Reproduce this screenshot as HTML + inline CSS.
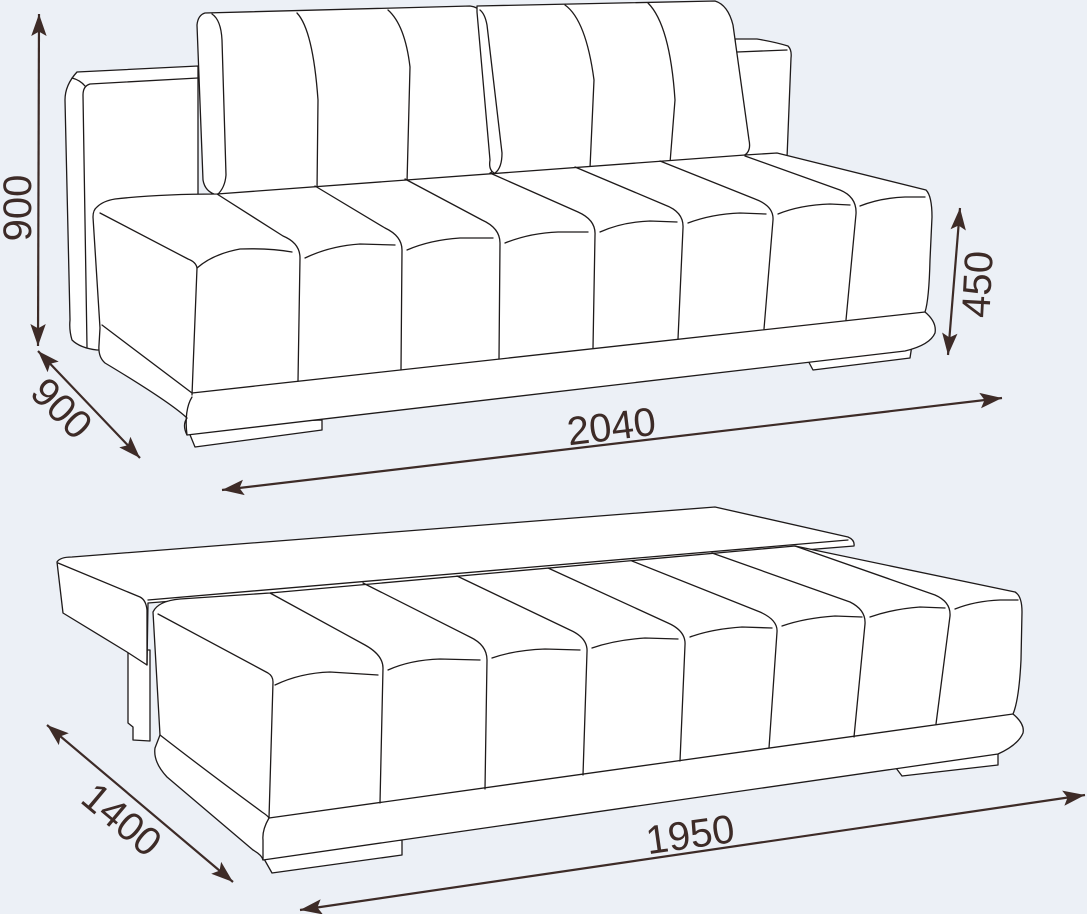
<!DOCTYPE html>
<html><head><meta charset="utf-8"><style>
html,body{margin:0;padding:0;background:#ecf0f6;}
svg{display:block}
text{font-family:"Liberation Sans",sans-serif;font-size:40px;fill:#3d2b27}
</style></head><body>
<svg width="1087" height="914" viewBox="0 0 1087 914" xmlns="http://www.w3.org/2000/svg">
<defs>
<marker id="ah" viewBox="0 0 10 10" refX="10" refY="5" markerWidth="10" markerHeight="10" markerUnits="userSpaceOnUse" orient="auto-start-reverse">
<path d="M0,1 L10,5 L0,9 L2.5,5 Z" fill="#3d2b27"/></marker>
<marker id="ahb" viewBox="0 0 10 10" refX="10" refY="5" markerWidth="22" markerHeight="22" markerUnits="userSpaceOnUse" orient="auto-start-reverse">
<path d="M0,1.5 L10,5 L0,8.5 L2,5 Z" fill="#3d2b27"/></marker>
</defs>
<g fill="#fff" stroke="#1e1a1a" stroke-width="1.3" stroke-linejoin="round" stroke-linecap="round">
<!-- ===== TOP SOFA ===== -->
<!-- left arm -->
<path d="M77,72 L198,66 L198,350 L97,350 Q80,348 72,340 Q69,330 70,320 L65,100 Q65,85 77,72 Z"/>
<path d="M198,78 L90,84 Q83,86 83,95 L87,347" fill="none"/>
<path d="M72,78 Q80,80 85,86" fill="none"/>
<!-- right arm -->
<path d="M735,39 L757,39 Q775,42 788,46 Q792,50 791,58 L787,158 L735,158 Z"/>
<path d="M737,52 L787,50" fill="none"/>
<!-- back cushions -->
<path d="M205,13 L470,6 Q478,7 480,12 L497,150 Q499,168 487,176 L217,195 Q205,192 203,180 L197,25 Q198,15 205,13 Z"/>
<path d="M212,14 Q221,20 222,40 L226,175 Q225,188 217,195" fill="none"/>
<path d="M297,13 Q313,30 318,100 L317,191" fill="none"/>
<path d="M388,10 Q405,25 410,67 L407,183" fill="none"/>
<path d="M477,6 L715,1 Q728,5 733,25 L749,140 Q752,154 740,157 L497,174 Q488,172 490,160 L477,12 Z"/>
<path d="M480,10 Q485,14 487,25 L502,153 Q502,168 495,173" fill="none"/>
<path d="M565,5 Q586,20 594,80 L590,168" fill="none"/>
<path d="M648,3 Q670,25 675,100 L670,163" fill="none"/>
<!-- feet -->
<path d="M186,425 L195,447 L322,430 L322,420 Z"/>
<path d="M805,355 L813,370 L910,358 L912,345 Z"/>
<!-- seat + base body -->
<path d="M97,207 Q103,201 115,199 Q160,194 217,194 L745,155 L777,153 L926,190 Q932,196 932,217 L930,260 Q929,300 925,312 Q937,322 935,333 Q930,345 905,351 L187,435 Q182,425 187,418 Q170,402 105,363 Q98,357 99,345 L100,328 L93,217 Q93,210 97,207 Z"/>
<path d="M102,325 L192,393 L925,312" fill="none"/>
<path d="M192,397 Q184,410 187,435" fill="none"/>
<path d="M100,213 L188,259 Q196,262 197,268 L192,395" fill="none"/>
<path d="M197,268 Q213,254 240,249 Q270,248 292,252" fill="none"/>
<!-- seams top sofa -->
<path d="M217,194 L283,236 Q300,243 300,258 L298,381" fill="none"/>
<path d="M305,258 Q330,246 360,244 L395,245" fill="none"/>
<path d="M315,186 L385,228 Q402,236 402,250 L401,370" fill="none"/>
<path d="M407,250 Q430,240 460,238 L493,238" fill="none"/>
<path d="M405,179 L482,220 Q500,228 500,243 L499,359" fill="none"/>
<path d="M505,243 Q530,233 558,232 L588,232" fill="none"/>
<path d="M490,173 L578,212 Q596,220 595,235 L593,348" fill="none"/>
<path d="M600,232 Q622,222 650,221 L677,222" fill="none"/>
<path d="M575,167 L665,205 Q684,212 683,228 L678,339" fill="none"/>
<path d="M688,223 Q712,214 740,213 L766,214" fill="none"/>
<path d="M660,161 L755,199 Q774,206 773,220 L764,329" fill="none"/>
<path d="M778,214 Q800,205 830,204 L850,205" fill="none"/>
<path d="M745,156 L840,190 Q857,197 856,214 L846,320" fill="none"/>
<path d="M860,206 Q880,198 905,197 L925,197" fill="none"/>

<!-- ===== BOTTOM SOFA ===== -->
<!-- leg under slab -->
<path d="M128,650 L128,723 L133,727 L133,740 L150,741 L150,650 Z"/>
<!-- slab -->
<path d="M57,562 Q60,557 72,557 L715,507 L848,537 Q855,540 854,546 L148,603 L147,665 L127,652 L63,613 Z"/>
<path d="M58,563 L140,597 Q146,600 147,610 L147,665" fill="none"/>
<path d="M148,600 L848,540" fill="none"/>
<!-- feet -->
<path d="M259,850 L272,873 L402,855 L402,840 Z"/>
<path d="M890,760 L902,776 L998,765 L998,750 Z"/>
<!-- seat+base -->
<path d="M153,612 Q158,601 180,599 L270,593 L795,546 L1015,592 Q1022,596 1022,612 L1021,660 Q1019,700 1013,714 Q1025,724 1023,733 Q1018,745 998,754 L263,860 Q262,855 253,850 L167,777 Q153,762 155,748 L160,735 Z"/>
<path d="M158,614 L268,673 Q273,676 273,682 L269,818 L1013,714" fill="none"/>
<path d="M160,735 Q205,770 262,812 Q268,816 269,818 Q262,830 263,840 Q263,852 263,860" fill="none"/>
<path d="M275,685 Q300,673 330,672 L378,675" fill="none"/>
<!-- seams bottom sofa -->
<path d="M270,593 L365,645 Q383,655 383,668 L380,803" fill="none"/>
<path d="M388,670 Q410,660 440,659 L480,660" fill="none"/>
<path d="M363,583 L470,637 Q487,645 487,660 L485,789" fill="none"/>
<path d="M492,658 Q515,650 545,649 L580,650" fill="none"/>
<path d="M457,576 L570,630 Q588,638 587,652 L583,775" fill="none"/>
<path d="M592,648 Q615,640 645,638 L678,639" fill="none"/>
<path d="M548,568 L668,623 Q686,631 685,645 L680,761" fill="none"/>
<path d="M690,637 Q712,629 742,627 L772,628" fill="none"/>
<path d="M632,561 L760,612 Q778,620 777,632 L769,748" fill="none"/>
<path d="M782,626 Q805,618 835,616 L862,617" fill="none"/>
<path d="M712,553 L850,602 Q866,610 865,624 L854,737" fill="none"/>
<path d="M870,617 Q893,609 920,607 L945,608" fill="none"/>
<path d="M795,546 L935,595 Q951,602 950,616 L936,724" fill="none"/>
<path d="M955,609 Q975,601 1000,600 L1018,600" fill="none"/>
</g>
<!-- ===== DIMENSIONS ===== -->
<g stroke="#3d2b27" stroke-width="2.2" fill="none">
<line x1="39" y1="14" x2="38" y2="346" marker-start="url(#ahb)" marker-end="url(#ahb)"/>
<line x1="38" y1="351" x2="140" y2="458" marker-start="url(#ahb)" marker-end="url(#ahb)"/>
<line x1="222" y1="490" x2="1002" y2="398" marker-start="url(#ahb)" marker-end="url(#ahb)"/>
<line x1="960" y1="208" x2="948" y2="355" marker-start="url(#ahb)" marker-end="url(#ahb)"/>
<line x1="47" y1="725" x2="233" y2="882" marker-start="url(#ahb)" marker-end="url(#ahb)"/>
<line x1="300" y1="910" x2="1085" y2="795" marker-start="url(#ahb)" marker-end="url(#ahb)"/>
</g>
<text transform="translate(31,208) rotate(-90)" text-anchor="middle">900</text>
<text transform="translate(52,418) rotate(45)" text-anchor="middle">900</text>
<text transform="translate(613,440) rotate(-7)" text-anchor="middle">2040</text>
<text transform="translate(991,285) rotate(-87)" text-anchor="middle">450</text>
<text transform="translate(113,830) rotate(40)" text-anchor="middle">1400</text>
<text transform="translate(692,848) rotate(-8)" text-anchor="middle">1950</text>
</svg>
</body></html>
